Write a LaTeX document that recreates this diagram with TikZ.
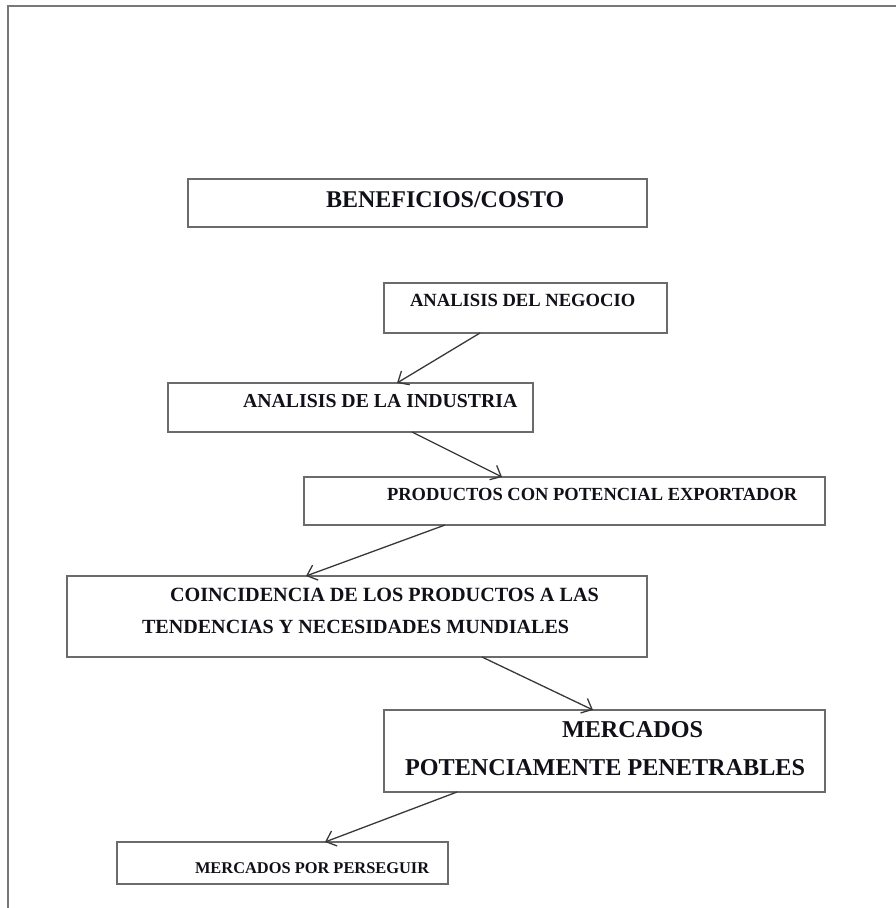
\documentclass[tikz,border=0pt]{standalone}
\usepackage{fontspec}
\setmainfont{Liberation Serif}
\usetikzlibrary{arrows.meta,calc}
\definecolor{framegray}{gray}{0.47}
\definecolor{boxgray}{gray}{0.42}
\definecolor{arrowgray}{gray}{0.22}
\definecolor{inkcol}{HTML}{101018}
\begin{document}
\begin{tikzpicture}[x=1pt,y=-1pt,
  box/.style={draw=boxgray,line width=1.5pt,rectangle,inner sep=0pt,outer sep=0pt},
  lbl/.style={anchor=base west,inner sep=0pt,outer sep=0pt,text=inkcol,font=\bfseries},
  flow/.style={draw=arrowgray,line width=1.3pt,-{Straight Barb[length=9pt,width=16pt,line width=1.3pt]}}]
\useasboundingbox (0,0) rectangle (896,908);

% page frame (top and left edges)
\coordinate (ftl) at (8,6);
\coordinate (ftr) at (896,6);
\coordinate (fbl) at (8,908);
\draw[framegray,line width=1.4pt] (ftr) -- (ftl) -- (fbl);

% boxes
\node[box,minimum width=459,minimum height=48] (b1) at (417.5,203) {};
\node[box,minimum width=283,minimum height=50] (b2) at (525.5,308) {};
\node[box,minimum width=365,minimum height=49] (b3) at (350.5,407.5) {};
\node[box,minimum width=521,minimum height=48] (b4) at (564.5,501) {};
\node[box,minimum width=580,minimum height=81] (b5) at (357,616.5) {};
\node[box,minimum width=441,minimum height=82] (b6) at (604.5,751) {};
\node[box,minimum width=331,minimum height=42] (b7) at (282.5,863) {};

% labels
\node[lbl,font=\bfseries\fontsize{24}{28}\selectfont] (t1) at (326,207) {BENEFICIOS/COSTO};
\node[lbl,font=\bfseries\fontsize{18.6}{22}\selectfont] (t2) at (410,306) {ANALISIS DEL NEGOCIO};
\node[lbl,font=\bfseries\fontsize{19.8}{23}\selectfont] (t3) at (243,407) {ANALISIS DE LA INDUSTRIA};
\node[lbl,font=\bfseries\fontsize{18.5}{22}\selectfont] (t4) at (387,500) {PRODUCTOS CON POTENCIAL EXPORTADOR};
\node[lbl,font=\bfseries\fontsize{20.2}{24}\selectfont] (t5a) at (170,601) {COINCIDENCIA DE LOS PRODUCTOS A LAS};
\node[lbl,font=\bfseries\fontsize{20.1}{24}\selectfont] (t5b) at (142,633) {TENDENCIAS Y NECESIDADES MUNDIALES};
\node[lbl,font=\bfseries\fontsize{24.2}{28}\selectfont] (t6a) at (562,737) {MERCADOS};
\node[lbl,font=\bfseries\fontsize{24.2}{28}\selectfont] (t6b) at (405,775) {POTENCIAMENTE PENETRABLES};
\node[lbl,font=\bfseries\fontsize{16.4}{20}\selectfont] (t7) at (195,873) {MERCADOS POR PERSEGUIR};

% connectors
\draw[flow] ($(b2.south west)+(96,0)$) -- ($(b3.north west)+(229,0)$);
\draw[flow] ($(b3.south west)+(244,0)$) -- ($(b4.north west)+(198,0)$);
\draw[flow] ($(b4.south west)+(141,0)$) -- ($(b5.north west)+(239,0)$);
\draw[flow] ($(b5.south west)+(415,0)$) -- ($(b6.north west)+(209,0)$);
\draw[flow] ($(b6.south west)+(73,0)$) -- ($(b7.north west)+(208,0)$);
\end{tikzpicture}
\end{document}
